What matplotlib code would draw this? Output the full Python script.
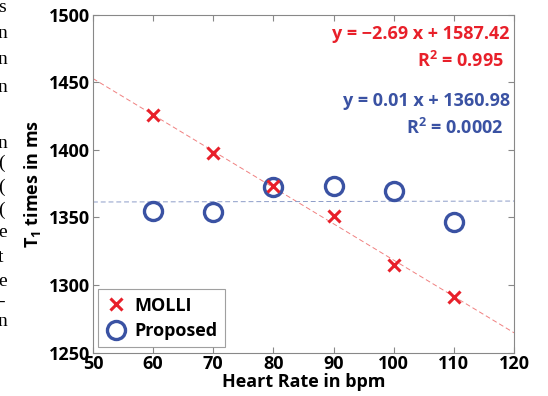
import numpy as np
import matplotlib
matplotlib.use("Agg")
import matplotlib.pyplot as plt

plt.rcParams['font.family'] = ['Open Sans', 'DejaVu Sans']
plt.rcParams['font.weight'] = 'bold'
plt.rcParams['mathtext.fontset'] = 'custom'
plt.rcParams['mathtext.rm'] = 'Open Sans:bold'
plt.rcParams['mathtext.it'] = 'Open Sans:bold'
plt.rcParams['mathtext.bf'] = 'Open Sans:bold'

# ── data ────────────────────────────────────────────────────────────────
heart_rate = [60, 70, 80, 90, 100, 110]
t1_molli    = [1425.9, 1397.6, 1373.6, 1351.3, 1314.8, 1290.9]
t1_proposed = [1355.1, 1354.3, 1372.4, 1373.3, 1369.6, 1346.4]

fit_molli    = [-2.69, 1587.42]   # slope, intercept
fit_proposed = [0.01, 1360.98]
r2_molli    = "0.995"
r2_proposed = "0.0002"

x_ticks = [50, 60, 70, 80, 90, 100, 110, 120]
y_ticks = [1250, 1300, 1350, 1400, 1450, 1500]

red  = '#e8202a'
blue = '#3a52a3'

fig = plt.figure(figsize=(5.48, 3.96), dpi=100)
ax = fig.add_axes([93 / 548, 1 - 352.5 / 396, 421 / 548, 337.5 / 396])

# fit lines
xl = np.array([50, 120])
ax.plot(xl, fit_molli[0] * xl + fit_molli[1], ls=(0, (5, 3)), lw=0.7,
        color='#f08080', zorder=1)
ax.plot(xl, fit_proposed[0] * xl + fit_proposed[1], ls=(0, (5, 3)), lw=0.7,
        color='#8c9cc8', zorder=1)

ax.plot(heart_rate, t1_molli, 'x', color=red, ms=9, mew=2.2, label='MOLLI', zorder=3)
ax.plot(heart_rate, t1_proposed, 'o', mfc='none', mec=blue, ms=13, mew=2.4,
        label='Proposed', zorder=2)

ax.set_xlim(50, 120)
ax.set_ylim(1250, 1500)
ax.set_xticks(x_ticks)
ax.set_yticks(y_ticks)
ax.tick_params(direction='in', top=True, right=True, length=4, color='#888888',
               labelsize=13, pad=2)
for s in ax.spines.values():
    s.set_color('#888888')
    s.set_linewidth(0.8)

ax.set_xlabel('Heart Rate in bpm', fontsize=13, fontweight='bold', labelpad=0)
ax.set_ylabel('T$_1$ times in ms', fontsize=13, fontweight='bold', labelpad=4)

leg = ax.legend(loc='lower left', fontsize=13, frameon=True, fancybox=False,
                borderaxespad=0.3, handletextpad=0.4, handlelength=1.2,
                borderpad=0.4, labelspacing=0.4)
leg.get_frame().set_edgecolor('#888888')
leg.get_frame().set_linewidth(0.8)

# fit annotations
ax.text(0.99, 0.945, f'y = \u22122.69 x + {fit_molli[1]:.2f}', transform=ax.transAxes,
        ha='right', va='center', color=red, fontsize=13, fontweight='bold')
ax.text(0.975, 0.865, f'R$^2$ = {r2_molli}', transform=ax.transAxes,
        ha='right', va='center', color=red, fontsize=13, fontweight='bold')
ax.text(0.99, 0.745, f'y = {fit_proposed[0]:.2f} x + {fit_proposed[1]:.2f}',
        transform=ax.transAxes, ha='right', va='center', color=blue, fontsize=13,
        fontweight='bold')
ax.text(0.975, 0.665, f'R$^2$ = {r2_proposed}', transform=ax.transAxes,
        ha='right', va='center', color=blue, fontsize=13, fontweight='bold')

# stray column text cut at left edge of the page crop
stray = ['s', 'n', 'n', 'n', 'n', '(', '(', '(', 'e', 't', 'e', '-', 'n']
stray_y = [8, 33, 60, 87, 143, 163, 187, 210, 233, 257, 282, 302, 322]
for ch, yy in zip(stray, stray_y):
    fig.text(-2 / 548, 1 - yy / 396, ch, fontsize=14, family='Liberation Serif',
             fontweight='normal', va='center', ha='left', color='black')

fig.savefig('out.png', dpi=100)
